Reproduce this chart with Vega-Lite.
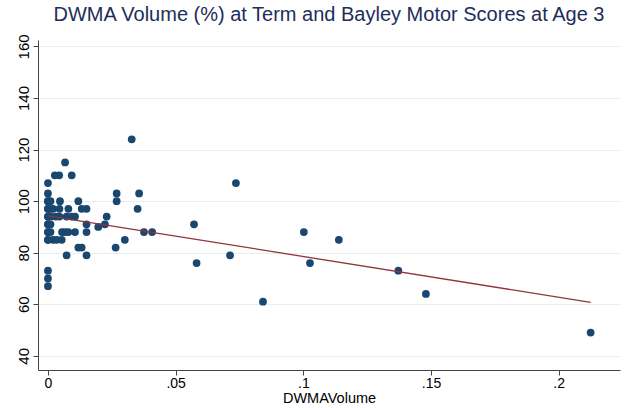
{
  "$schema": "https://vega.github.io/schema/vega-lite/v6.json",
  "width": 582,
  "height": 330,
  "autosize": "none",
  "padding": {"left": 38, "top": 40, "right": 6, "bottom": 38},
  "background": "white",
  "config": {
    "view": {"stroke": null},
    "font": "Liberation Sans",
    "axis": {"labelFont": "Liberation Sans", "titleFont": "Liberation Sans", "labelColor": "#000", "titleColor": "#000", "domainColor": "#444", "tickColor": "#444", "labelFontSize": 14, "titleFontSize": 14.5, "titleFontWeight": "normal"}
  },
  "title": {"text": "DWMA Volume (%) at Term and Bayley Motor Scores at Age 3", "font": "Liberation Sans", "fontSize": 20, "fontWeight": "normal", "color": "#1e2d5a", "anchor": "middle", "offset": 9},
  "data": {"values": [
    {"dwma": 0, "motor": 107}, {"dwma": 0, "motor": 103}, {"dwma": 0, "motor": 100}, {"dwma": 0, "motor": 100},
    {"dwma": 0, "motor": 97}, {"dwma": 0, "motor": 97}, {"dwma": 0, "motor": 94}, {"dwma": 0, "motor": 94},
    {"dwma": 0, "motor": 91}, {"dwma": 0, "motor": 91}, {"dwma": 0, "motor": 88}, {"dwma": 0, "motor": 88},
    {"dwma": 0, "motor": 85}, {"dwma": 0, "motor": 85}, {"dwma": 0, "motor": 73}, {"dwma": 0, "motor": 70}, {"dwma": 0, "motor": 67},
    {"dwma": 0.001, "motor": 100}, {"dwma": 0.001, "motor": 97}, {"dwma": 0.001, "motor": 94}, {"dwma": 0.001, "motor": 91}, {"dwma": 0.001, "motor": 88},
    {"dwma": 0.002, "motor": 85}, {"dwma": 0.002, "motor": 97},
    {"dwma": 0.0027, "motor": 110}, {"dwma": 0.003, "motor": 94}, {"dwma": 0.0034, "motor": 85},
    {"dwma": 0.0044, "motor": 110}, {"dwma": 0.0047, "motor": 100}, {"dwma": 0.0045, "motor": 97}, {"dwma": 0.0045, "motor": 94},
    {"dwma": 0.0054, "motor": 85}, {"dwma": 0.0055, "motor": 88},
    {"dwma": 0.0067, "motor": 115}, {"dwma": 0.0067, "motor": 88},
    {"dwma": 0.0073, "motor": 79}, {"dwma": 0.0073, "motor": 94}, {"dwma": 0.008, "motor": 97}, {"dwma": 0.008, "motor": 88},
    {"dwma": 0.0093, "motor": 110}, {"dwma": 0.0093, "motor": 94},
    {"dwma": 0.0106, "motor": 88}, {"dwma": 0.0106, "motor": 94},
    {"dwma": 0.0119, "motor": 100}, {"dwma": 0.0119, "motor": 82},
    {"dwma": 0.0132, "motor": 97}, {"dwma": 0.0132, "motor": 82},
    {"dwma": 0.0151, "motor": 97}, {"dwma": 0.0151, "motor": 91}, {"dwma": 0.0151, "motor": 88}, {"dwma": 0.0151, "motor": 79},
    {"dwma": 0.0197, "motor": 90}, {"dwma": 0.0223, "motor": 91}, {"dwma": 0.023, "motor": 94},
    {"dwma": 0.0265, "motor": 82}, {"dwma": 0.0269, "motor": 103}, {"dwma": 0.0269, "motor": 100},
    {"dwma": 0.0301, "motor": 85}, {"dwma": 0.0328, "motor": 124}, {"dwma": 0.0351, "motor": 97}, {"dwma": 0.0357, "motor": 103},
    {"dwma": 0.0376, "motor": 88}, {"dwma": 0.0408, "motor": 88},
    {"dwma": 0.0572, "motor": 91}, {"dwma": 0.0582, "motor": 76},
    {"dwma": 0.0713, "motor": 79}, {"dwma": 0.0736, "motor": 107}, {"dwma": 0.0842, "motor": 61},
    {"dwma": 0.1002, "motor": 88}, {"dwma": 0.1026, "motor": 76}, {"dwma": 0.1139, "motor": 85},
    {"dwma": 0.1372, "motor": 73}, {"dwma": 0.148, "motor": 64}, {"dwma": 0.2125, "motor": 49}
  ]},
  "layer": [
    {
      "mark": {"type": "circle", "size": 60, "color": "#1a476f", "opacity": 1},
      "encoding": {
        "x": {"field": "dwma", "type": "quantitative", "title": "DWMAVolume",
          "scale": {"domain": [-0.0039, 0.224], "nice": false, "zero": false},
          "axis": {"values": [0, 0.05, 0.1, 0.15, 0.2], "format": "~g", "labelExpr": "replace(datum.label, /^0\\./, '.')", "grid": false, "tickSize": 5, "labelPadding": 1, "titlePadding": 1, "labelFlush": false}},
        "y": {"field": "motor", "type": "quantitative", "title": null,
          "scale": {"domain": [34.5, 162.5], "nice": false, "zero": false},
          "axis": {"values": [40, 60, 80, 100, 120, 140, 160], "grid": true, "gridColor": "#e6eef0", "gridWidth": 1, "tickSize": 5, "labelAngle": -90, "labelAlign": "center", "labelBaseline": "bottom", "labelPadding": 2, "labelFontSize": 15}}
      }
    },
    {
      "transform": [{"regression": "motor", "on": "dwma"}],
      "mark": {"type": "line", "color": "#90353b", "strokeWidth": 1.3},
      "encoding": {
        "x": {"field": "dwma", "type": "quantitative"},
        "y": {"field": "motor", "type": "quantitative"}
      }
    }
  ]
}
